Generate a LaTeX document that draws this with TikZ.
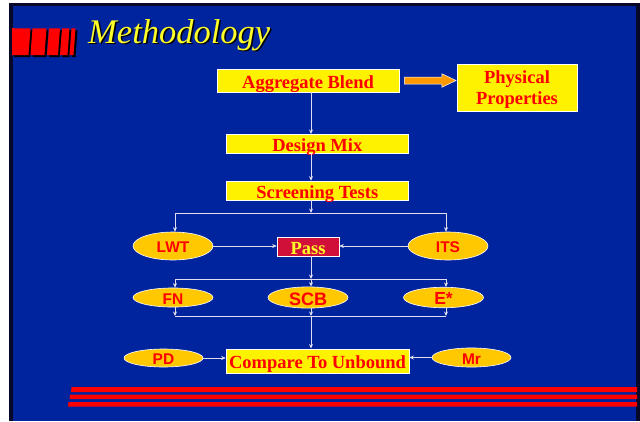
\documentclass[tikz,border=0pt]{standalone}
\usepackage{fontspec}
\setmainfont{Liberation Serif}
\newfontfamily\arialf{Liberation Sans}
\usetikzlibrary{shapes.geometric,arrows.meta}
\definecolor{bgblue}{RGB}{0,36,158}
\definecolor{frameC}{RGB}{8,8,40}
\definecolor{goldC}{RGB}{255,200,0}
\definecolor{passC}{RGB}{208,16,56}
\definecolor{orangeC}{RGB}{255,153,0}
\definecolor{lineC}{RGB}{222,222,238}
\definecolor{titleY}{RGB}{255,255,40}
\tikzset{
  ybox/.style={draw=white, line width=0.6pt, fill=yellow, text=red,
    font=\bfseries\fontsize{18.5}{21}\selectfont, inner sep=0pt, align=center,
    text height=15pt, text depth=0pt},
  oval/.style={ellipse, draw=white, line width=0.6pt, fill=goldC, text=red,
    font=\arialf\bfseries\fontsize{15.5}{16}\selectfont, inner sep=0pt,
    minimum width=80pt, minimum height=17pt, text height=13.5pt, text depth=0pt},
  ln/.style={draw=lineC, line width=0.7pt},
  arr/.style={ln, -{Stealth[length=4.5pt,width=4pt]}},
  redbar/.style={fill=red},
  barshadow/.style={fill=black},
  stripe/.style={fill=red}
}
\begin{document}
\begin{tikzpicture}[x=1pt,y=-1pt]
\useasboundingbox (0,0) rectangle (640,421);
\fill[white] (0,0) rectangle (640,421);
\fill[frameC] (9,3) rectangle (640,421);
\fill[bgblue] (12.5,5.5) rectangle (636,421);

% title bars (shadow then red)
\foreach \a/\b in {12/28.5, 30.5/44.5, 47/58, 60/67.5, 69.5/73.5}{
  \fill[barshadow] (\a+2,57) -- (\b+2,57) -- (\b+4,30) -- (\a+4,30) -- cycle;
}
\foreach \a/\b in {12/28.5, 30.5/44.5, 47/58, 60/67.5, 69.5/73.5}{
  \fill[redbar] (\a,55) -- (\b,55) -- (\b+2,28.3) -- (\a+2,28.3) -- cycle;
}
\fill[redbar] (12,28.3) rectangle (14,55);

% title
\node[anchor=base west, inner sep=0pt, text=black,
  font=\itshape\fontsize{34.5}{40}\selectfont] (tshadow) at (89.5,44.5) {Methodology};
\node[anchor=base west, inner sep=0pt, text=titleY,
  font=\itshape\fontsize{34.5}{40}\selectfont] (title) at (88,43) {Methodology};

% bottom stripes
\fill[stripe] (71.5,387) -- (637,387) -- (637,392) -- (71,392) -- cycle;
\fill[stripe] (70,394.5) -- (637,394.5) -- (637,399) -- (69.5,399) -- cycle;
\fill[stripe] (68.5,402) -- (637,402) -- (637,406.5) -- (68,406.5) -- cycle;

% nodes
\node[ybox, minimum width=182pt, minimum height=23pt] (ab) at (308,80.5) {Aggregate Blend};
\node[ybox, text height=, text depth=0pt, minimum width=120pt, minimum height=47pt] (phys) at (517,87.5) {Physical\\Properties};
\node[ybox, minimum width=182.5pt, minimum height=19pt] (dm) at (317.3,143.8) {Design Mix};
\node[ybox, minimum width=182.5pt, minimum height=19pt] (st) at (317.3,190.5) {Screening Tests};
\node[oval, minimum height=28pt] (lwt) at (173,246) {LWT};
\node[oval, minimum height=28pt] (its) at (448,246) {ITS};
\node[ybox, fill=passC, text=titleY, minimum width=62pt, minimum height=18.7pt] (pass) at (308,246.7) {Pass};
\node[oval] (fn) at (173,297.5) {FN};
\node[oval, font=\arialf\bfseries\fontsize{18}{18}\selectfont, text height=15pt] (scb) at (308,297.5) {SCB};
\node[oval, font=\arialf\bfseries\fontsize{17.5}{18}\selectfont, text height=14.5pt] (es) at (443.5,297.5) {E*};
\node[ybox, minimum width=183pt, minimum height=24pt] (cmp) at (317.5,360.8) {Compare To Unbound};
\node[oval, minimum width=79pt, minimum height=18pt, text height=12.5pt] (pd) at (163.5,358) {PD};
\node[oval, minimum width=79pt, minimum height=19pt] (mr) at (471.5,357.5) {Mr};

% orange block arrow
\draw[fill=orangeC, draw=white, line width=0.5pt, line join=miter]
  (ab.east) ++(5,-3.5) -- ++(37.5,0) -- ++(0,-3.3) -- ++(14.3,6.8)
  -- ++(-14.3,6.8) -- ++(0,-3.3) -- ++(-37.5,0) -- cycle;

% junction coordinates
\coordinate (sp) at (311,0);
\coordinate (j1) at (311,213);
\coordinate (h1L) at (175,213);
\coordinate (h1R) at (446,213);
\coordinate (j2) at (311,279);
\coordinate (h2L) at (175,279);
\coordinate (h2R) at (446,279);
\coordinate (j3) at (311,316);
\coordinate (h3L) at (175,316);
\coordinate (h3R) at (446,316);

% connectors
\draw[arr] (ab.south -| sp) -- (dm.north -| sp);
\draw[arr] (dm.south -| sp) -- (st.north -| sp);
\draw[arr] (st.south -| sp) -- (j1);
\draw[ln] (h1L) -- (h1R);
\draw[arr] (h1L) -- (h1L |- lwt.north);
\draw[arr] (h1R) -- (h1R |- its.north);
\draw[arr] (lwt.east) -- (lwt.east -| pass.west);
\draw[arr] (its.west) -- (its.west -| pass.east);
\draw[arr] (pass.south -| sp) -- (j2);
\draw[ln] (h2L) -- (h2R);
\draw[arr] (h2L) -- (h2L |- fn.north);
\draw[arr] (j2) -- (scb.north -| sp);
\draw[arr] (h2R) -- (h2R |- es.north);
\draw[arr] (h2L |- fn.south) -- (h3L);
\draw[arr] (scb.south -| sp) -- (j3);
\draw[arr] (h2R |- es.south) -- (h3R);
\draw[ln] (h3L) -- (h3R);
\draw[arr] (j3) -- (cmp.north -| sp);
\draw[arr] (pd.east) -- (pd.east -| cmp.west);
\draw[arr] (mr.west) -- (mr.west -| cmp.east);
\end{tikzpicture}
\end{document}
